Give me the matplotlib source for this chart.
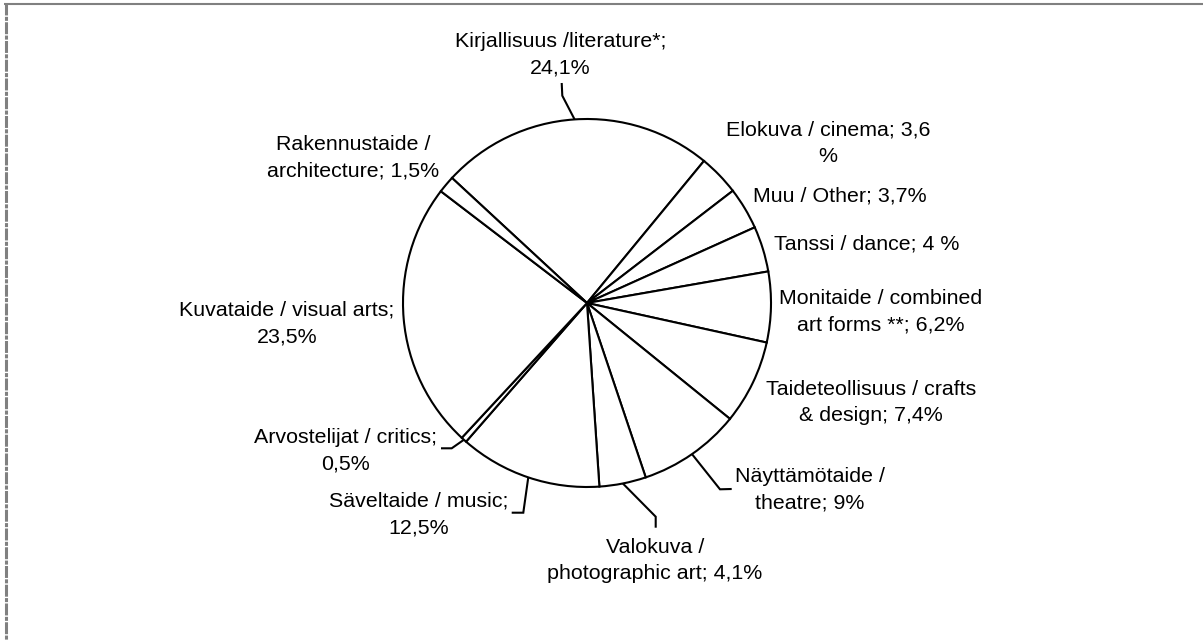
import matplotlib
matplotlib.use('Agg')
import matplotlib.pyplot as plt
import numpy as np

# ---- data ----
categories = [
    "Kirjallisuus /literature*;\n24,1%",
    "Elokuva / cinema; 3,6\n%",
    "Muu / Other; 3,7%",
    "Tanssi / dance; 4 %",
    "Monitaide / combined\nart forms **; 6,2%",
    "Taideteollisuus / crafts\n& design; 7,4%",
    "Näyttämötaide /\ntheatre; 9%",
    "Valokuva /\nphotographic art; 4,1%",
    "Säveltaide / music;\n12,5%",
    "Arvostelijat / critics;\n0,5%",
    "Kuvataide / visual arts;\n23,5%",
    "Rakennustaide /\narchitecture; 1,5%",
]
shares = [24.1, 3.6, 3.7, 4.0, 6.2, 7.4, 9.0, 4.1, 12.5, 0.5, 23.5, 1.5]

# ---- layout (pixel coordinates, y measured from top) ----
W, H = 1203, 641
CX, CY, R = 587, 303, 184
label_pos = [(560.5, 54.8), (828, 143.6), (839.5, 196.2), (866.7, 243.5),
             (881, 312.2), (871, 402.6), (810, 489.9), (655, 560.7),
             (419, 514.7), (345, 450.3), (287, 323.3), (353, 158.1)]
leaders = {0: [(562.3, 95.7), (561.7, 83)],
           6: [(720, 489.3), (731.7, 489)],
           7: [(655.7, 516.7), (655.7, 527.7)],
           8: [(523.3, 512.7), (511.7, 512.7)],
           9: [(451.7, 448.3), (441, 448.3)]}

plt.rcParams['lines.scale_dashes'] = False
fig = plt.figure(figsize=(W / 100, H / 100), dpi=100)
ax = fig.add_axes([0, 0, 1, 1])
wedges, _ = ax.pie(shares, startangle=137.2, counterclock=False,
                   center=(CX, H - CY), radius=R,
                   wedgeprops=dict(facecolor='white', edgecolor='black',
                                   linewidth=1.5))
ax.set_xlim(0, W)
ax.set_ylim(0, H)
ax.axis('off')

# labels
for i, (txt, (x, y)) in enumerate(zip(categories, label_pos)):
    ax.text(x, H - y, txt, ha='center', va='center', multialignment='center',
            fontsize=15.4, family='Liberation Sans', linespacing=1.5,
            color='black')

# leader lines from wedge mid-angle on the rim
for i, pts in leaders.items():
    w = wedges[i]
    th = np.deg2rad((w.theta1 + w.theta2) / 2)
    x0 = w.center[0] + w.r * np.cos(th)
    y0 = w.center[1] + w.r * np.sin(th)
    xs = [x0] + [p[0] for p in pts]
    ys = [y0] + [H - p[1] for p in pts]
    ax.plot(xs, ys, color='black', lw=1.5, solid_capstyle='butt',
            solid_joinstyle='miter')

# figure border (top solid, left dashed)
ax.plot([4, W], [H - 4, H - 4], color='#808080', lw=1.5, clip_on=False,
        solid_capstyle='butt')
ln, = ax.plot([5.5, 5.5], [H - 3, 0], color='#808080', lw=2.2, clip_on=False)
ln.set_dashes([8.6, 1.0, 2.9, 1.0])

fig.savefig('out.png', dpi=100, facecolor='white')
